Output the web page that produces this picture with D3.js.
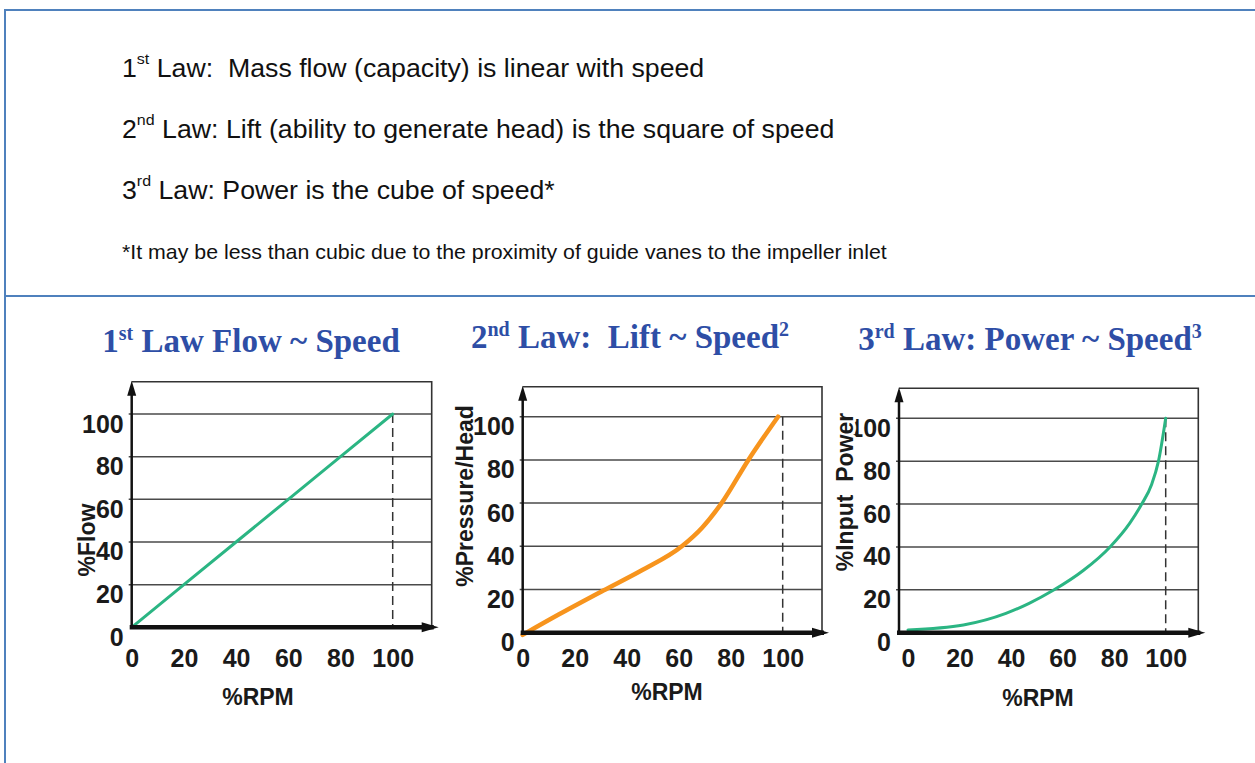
<!DOCTYPE html>
<html>
<head>
<meta charset="utf-8">
<script src="https://cdn.jsdelivr.net/npm/d3@7"></script>
<style>
body { margin: 0; background: #fff; }
svg text { white-space: pre; }
</style>
</head>
<body>
<div id="page"></div>
<script>
// text block
var lawNums = ["1", "2", "3"];
var lawSups = ["st", "nd", "rd"];
var lawTexts = [" Law:  Mass flow (capacity) is linear with speed",
                " Law: Lift (ability to generate head) is the square of speed",
                " Law: Power is the cube of speed*"];
var footnote = "*It may be less than cubic due to the proximity of guide vanes to the impeller inlet";

// chart titles
var titleNums = ["1", "2", "3"];
var titleSups = ["st", "nd", "rd"];
var titleBodies = [" Law Flow ~ Speed", " Law:  Lift ~ Speed", " Law: Power ~ Speed"];
var titlePowers = ["", "2", "3"];

var ticks = [0, 20, 40, 60, 80, 100];
var yTitles = ["%Flow", "%Pressure/Head", "%Input  Power"];
var xTitle = "%RPM";

// series
var rpm1 = [0, 20, 40, 60, 80, 100];
var flow = [0, 20, 40, 60, 80, 100];
var rpm2 = [0, 14, 31, 46, 61.2, 69, 76.5, 86.8, 98.2];
var head = [-1, 8.5, 19.5, 29, 40, 48.6, 60, 80, 100];
var rpm3 = [0, 21.5, 38, 47, 56.7, 68, 78.4, 86, 90.7, 94.5, 97.2, 100];
var power = [1.3, 3.6, 9, 13.7, 20, 29, 40, 51, 60, 69, 80, 100];

var width = 1255, height = 763;
var frameColor = "#4f81bd", titleColor = "#2e4ea6";
var sans = "'Liberation Sans', Arial, sans-serif";
var serif = "'Liberation Serif', 'Times New Roman', serif";

var svg = d3.select("#page")
    .append("svg")
    .attr("width", width)
    .attr("height", height);

// frame
svg.append("line").attr("x1", 5).attr("x2", width).attr("y1", 10).attr("y2", 10)
    .attr("stroke", frameColor).attr("stroke-width", 2);
svg.append("line").attr("x1", 5).attr("x2", width).attr("y1", 296).attr("y2", 296)
    .attr("stroke", frameColor).attr("stroke-width", 2);
svg.append("line").attr("x1", 5).attr("x2", 5).attr("y1", 9).attr("y2", height)
    .attr("stroke", frameColor).attr("stroke-width", 2);

// law lines (source text is a little wide, hence the x stretch)
var lawBase = [77, 138, 199];
lawNums.forEach(function (n, i) {
    var t = svg.append("text")
        .attr("transform", "translate(122," + lawBase[i] + ") scale(1.068,1)")
        .attr("font-family", sans).attr("font-size", 25).attr("fill", "#111");
    t.append("tspan").text(n);
    t.append("tspan").attr("font-size", 15).attr("dy", -13).text(lawSups[i]);
    t.append("tspan").attr("dy", 13).text(lawTexts[i]);
});

svg.append("text")
    .attr("transform", "translate(122,259) scale(1.067,1)")
    .attr("font-family", sans).attr("font-size", 20).attr("fill", "#111")
    .text(footnote);

// panel layout (pixels)
var panels = [
    { axisX: 131.7, x0: 131.7, x100: 392.7, right: 431.7, top: 381.7, y0: 627.3, y100: 414,
      cx: 251, titleY: 352, color: "#2bb583", lw: 3, rpm: rpm1, val: flow,
      yTx: 87, yTy: 540, xTx: 258, xTy: 705, curve: d3.curveLinear, halo: false },
    { axisX: 522.7, x0: 522.7, x100: 782.7, right: 822, top: 386.7, y0: 632.7, y100: 416.7,
      cx: 630, titleY: 348, color: "#f7941d", lw: 4.5, rpm: rpm2, val: head,
      yTx: 465, yTy: 496, xTx: 667, xTy: 700, curve: d3.curveMonotoneX, halo: false },
    { axisX: 899, x0: 908, x100: 1165.7, right: 1198.3, top: 388.3, y0: 632.7, y100: 418.3,
      cx: 1030, titleY: 350, color: "#2bb583", lw: 3, rpm: rpm3, val: power,
      yTx: 845, yTy: 492, xTx: 1038, xTy: 706, curve: d3.curveMonotoneX, halo: true }
];

panels.forEach(function (p, i) {
    var x = d3.scaleLinear().domain([0, 100]).range([p.x0, p.x100]);
    var y = d3.scaleLinear().domain([0, 100]).range([p.y0, p.y100]);
    var g = svg.append("g");

    // title
    var tt = g.append("text")
        .attr("x", p.cx).attr("y", p.titleY)
        .attr("text-anchor", "middle")
        .attr("font-family", serif).attr("font-weight", "bold")
        .attr("font-size", 33).attr("fill", titleColor);
    tt.append("tspan").text(titleNums[i]);
    tt.append("tspan").attr("font-size", 20).attr("dy", -12).text(titleSups[i]);
    tt.append("tspan").attr("dy", 12).text(titleBodies[i]);
    if (titlePowers[i]) {
        tt.append("tspan").attr("font-size", 20).attr("dy", -12).text(titlePowers[i]);
    }

    // gridlines
    g.selectAll(".grid")
        .data(ticks.slice(1))
        .enter().append("line")
        .attr("x1", p.axisX - 3).attr("x2", p.right)
        .attr("y1", function (d) { return y(d); })
        .attr("y2", function (d) { return y(d); })
        .attr("stroke", "#4a4a4a").attr("stroke-width", 1.5);

    // box
    g.append("path")
        .attr("d", "M" + p.axisX + "," + p.top + "H" + p.right + "V" + p.y0)
        .attr("fill", "none").attr("stroke", "#333").attr("stroke-width", 1.6);

    // dashed 100% line
    g.append("line")
        .attr("x1", x(100)).attr("x2", x(100))
        .attr("y1", y(100)).attr("y2", p.y0)
        .attr("stroke", "#333").attr("stroke-width", 1.5)
        .attr("stroke-dasharray", "9,5");

    // series
    var pts = p.rpm.map(function (r, k) { return [r, p.val[k]]; });
    var line = d3.line()
        .x(function (d) { return x(d[0]); })
        .y(function (d) { return y(d[1]); })
        .curve(p.curve);
    g.append("path")
        .datum(pts)
        .attr("fill", "none")
        .attr("stroke", p.color)
        .attr("stroke-width", p.lw)
        .attr("stroke-linecap", "round")
        .attr("stroke-linejoin", "round")
        .attr("d", line);

    // axes lines with arrows
    g.append("line")
        .attr("x1", p.axisX).attr("x2", p.axisX)
        .attr("y1", p.y0).attr("y2", p.top + 6)
        .attr("stroke", "#111").attr("stroke-width", 2.5);
    g.append("path")
        .attr("d", "M" + (p.axisX - 4.5) + "," + (p.top + 14) + "L" + p.axisX + "," + (p.top - 1) +
            "L" + (p.axisX + 4.5) + "," + (p.top + 14) + "Z")
        .attr("fill", "#111");
    g.append("line")
        .attr("x1", p.axisX - 2).attr("x2", p.right + 2)
        .attr("y1", p.y0).attr("y2", p.y0)
        .attr("stroke", "#111").attr("stroke-width", 4.5);
    g.append("path")
        .attr("d", "M" + (p.right - 10) + "," + (p.y0 - 5) + "L" + (p.right + 7) + "," + p.y0 +
            "L" + (p.right - 10) + "," + (p.y0 + 5) + "Z")
        .attr("fill", "#111");

    // tick labels
    var ya = g.append("g")
        .attr("transform", "translate(" + (p.axisX - 8) + ",0)")
        .call(d3.axisLeft(y).tickValues(ticks).tickSize(0).tickPadding(0));
    ya.select(".domain").remove();
    ya.selectAll("text")
        .attr("dy", 18)
        .attr("font-family", sans).attr("font-weight", "bold")
        .attr("font-size", 25).attr("fill", "#1a1a1a");

    var xa = g.append("g")
        .attr("transform", "translate(0,667)")
        .call(d3.axisBottom(x).tickValues(ticks).tickSize(0).tickPadding(0));
    xa.select(".domain").remove();
    xa.selectAll("text")
        .attr("dy", 0).attr("y", 0)
        .attr("font-family", sans).attr("font-weight", "bold")
        .attr("font-size", 25).attr("fill", "#1a1a1a");

    // axis titles
    g.append("text")
        .attr("x", p.xTx).attr("y", p.xTy)
        .attr("text-anchor", "middle")
        .attr("font-family", sans).attr("font-weight", "bold")
        .attr("font-size", 23).attr("fill", "#1a1a1a")
        .text(xTitle);
    var yt = g.append("text")
        .attr("transform", "translate(" + (p.yTx + 8) + "," + p.yTy + ") rotate(-90)")
        .attr("text-anchor", "middle")
        .attr("font-family", sans).attr("font-weight", "bold")
        .attr("font-size", 23).attr("fill", "#1a1a1a")
        .text(yTitles[i]);
    if (p.halo) {
        yt.attr("stroke", "#fff").attr("stroke-width", 6)
          .attr("paint-order", "stroke").attr("stroke-linejoin", "round");
    }
});
</script>
</body>
</html>
